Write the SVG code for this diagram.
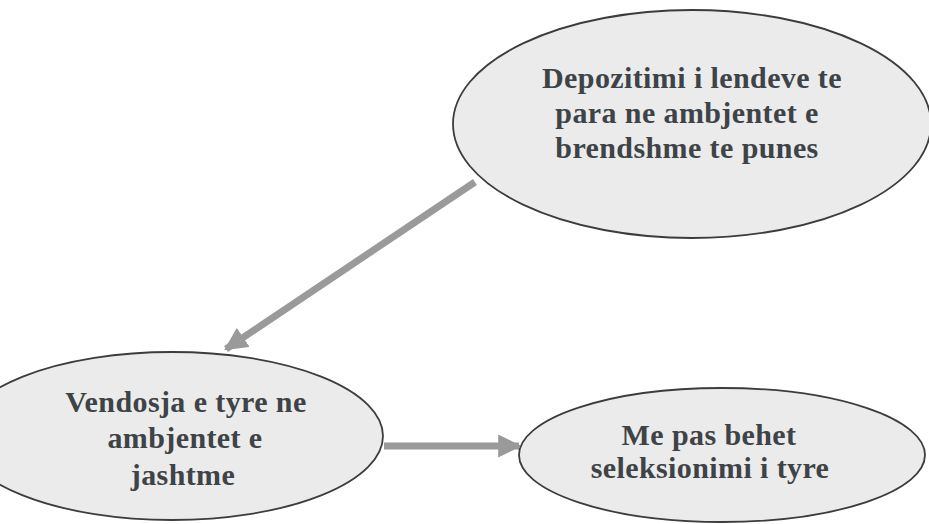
<svg xmlns="http://www.w3.org/2000/svg" width="929" height="524" viewBox="0 0 929 524">
<style>
.node ellipse{fill:#ebebeb;stroke:#3c3c3c;stroke-width:1.8}
.node text{font-family:"Liberation Serif","Times New Roman",serif;font-weight:bold;font-size:30px;fill:#3d4346;text-anchor:middle;letter-spacing:0.4px}
.conn{stroke:#9a9a9a;stroke-width:7;fill:none}
</style>
<defs>
<marker id="ah" viewBox="0 0 10 10" refX="9" refY="5" markerWidth="3.3" markerHeight="3.3" orient="auto" markerUnits="strokeWidth">
<path d="M0,0 L10,5 L0,10 Z" fill="#9a9a9a"/>
</marker>
</defs>
<rect width="929" height="524" fill="#ffffff"/>
<g id="connectors">
<line class="conn" x1="475" y1="182" x2="226" y2="349" marker-end="url(#ah)"/>
<line class="conn" x1="384" y1="446" x2="519" y2="446" marker-end="url(#ah)"/>
</g>
<g id="node-depozitimi" class="node">
<ellipse cx="692" cy="124" rx="239" ry="114"/>
<text x="692" y="88">Depozitimi i lendeve te</text>
<text x="687" y="123">para ne ambjentet e</text>
<text x="687" y="158">brendshme te punes</text>
</g>
<g id="node-vendosja" class="node">
<ellipse cx="172" cy="436" rx="211" ry="84"/>
<text x="186" y="412">Vendosja e tyre ne</text>
<text x="185" y="448">ambjentet e</text>
<text x="183" y="485">jashtme</text>
</g>
<g id="node-seleksionimi" class="node">
<ellipse cx="722" cy="455" rx="203" ry="67"/>
<text x="709" y="445">Me pas behet</text>
<text x="710" y="478">seleksionimi i tyre</text>
</g>
</svg>
